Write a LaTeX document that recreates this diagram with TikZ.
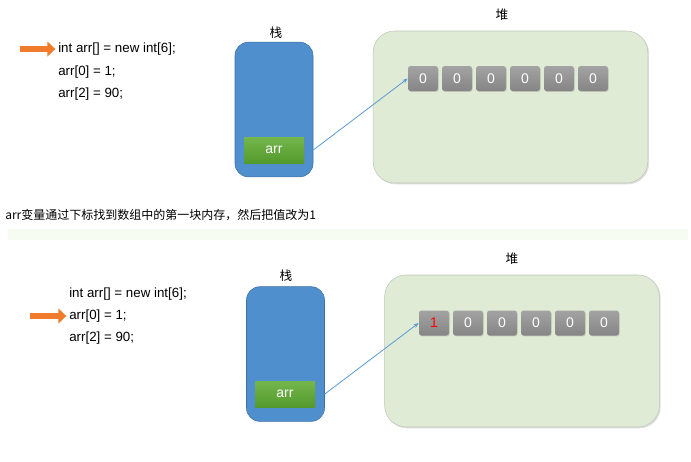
\documentclass[tikz,border=0pt]{standalone}
\usepackage{fontspec}
\setmainfont{Liberation Sans}
\newfontfamily\cjk{Noto Sans CJK SC}
\usetikzlibrary{arrows.meta, positioning, shadows}

\definecolor{stackblue}{HTML}{4F8FCE}
\definecolor{stackedge}{HTML}{3E70A3}
\definecolor{heapfill}{HTML}{DFEBD5}
\definecolor{heapedge}{HTML}{BFC6BA}
\definecolor{linkblue}{HTML}{5B9BD5}
\definecolor{handorange}{HTML}{EF7B2B}
\definecolor{band}{HTML}{F7FCF3}
\definecolor{vartop}{HTML}{74B64C}
\definecolor{varbottom}{HTML}{539A2C}
\definecolor{celltop}{HTML}{A3A3A3}
\definecolor{cellbottom}{HTML}{858585}

\begin{document}
\begin{tikzpicture}[
  x=0.75pt, y=-0.75pt,
  font=\fontsize{10}{12}\selectfont,
  code/.style={anchor=west, inner sep=0pt},
  title/.style={font=\cjk\fontsize{9.5}{11}\selectfont},
  stack/.style={draw=stackedge, fill=stackblue, rounded corners=10pt, minimum width=58.5pt, minimum height=101pt},
  heap/.style={draw=heapedge, fill=heapfill, rounded corners=16pt, minimum width=206pt, minimum height=114pt,
    drop shadow={shadow xshift=1pt, shadow yshift=-1pt, opacity=0.25}},
  var/.style={top color=vartop, bottom color=varbottom, draw=none,
    minimum width=45pt, minimum height=19.5pt, text=white, inner sep=0pt, font=\fontsize{10.5}{12}\selectfont,
    drop shadow={shadow xshift=0.5pt, shadow yshift=-0.7pt, opacity=0.3}},
  cell/.style={top color=celltop, bottom color=cellbottom, rounded corners=2pt, minimum width=22.5pt, minimum height=18.75pt,
    text=white, inner sep=0pt, font=\fontsize{10.5}{12}\selectfont,
    drop shadow={shadow xshift=0.5pt, shadow yshift=-0.7pt, opacity=0.3}},
  ptr/.style={-{Stealth[length=4pt, width=3pt]}, linkblue, semithick},
  hand/.style={-{Triangle[length=6pt, width=11pt]}, handorange, line width=5pt}
]
  \useasboundingbox[fill=white] (0,0) rectangle (691,461);

  % top: new int[6]
  \node[code] (codeA1) at (58,49) {int arr[] = new int[6];};
  \node[code] (codeA2) at (58,72) {arr[0] = 1;};
  \node[code] (codeA3) at (58,94) {arr[2] = 90;};
  \coordinate (handA) at (20,49);
  \draw[hand] (handA) -- ([xshift=-2pt]codeA1.west);

  \node[title] (stackTitleA) at (276,33) {栈};
  \node[stack] (stackA) at (274,109.5) {};
  \node[var] (varA) at (274,150) {arr};

  \node[title] (heapTitleA) at (502,15) {堆};
  \node[heap] (heapA) at (510.5,107) {};
  \node[cell] (a1) at (423,78.5) {0};
  \foreach \i [remember=\i as \j (initially 1)] in {2,...,6}
    \node[cell, right=2.6pt of a\j] (a\i) {0};
  \draw[ptr] (varA.east -| stackA.east) -- (a1.west);

  % caption
  \node[code, font=\cjk\fontsize{9}{11}\selectfont] (caption) at (5,215) {arr变量通过下标找到数组中的第一块内存，然后把值改为1};
  \fill[band] (8,229) rectangle (688,240);

  % bottom: arr[0] = 1
  \node[code] (codeB1) at (69,294) {int arr[] = new int[6];};
  \node[code] (codeB2) at (69,316) {arr[0] = 1;};
  \node[code] (codeB3) at (69,338) {arr[2] = 90;};
  \coordinate (handB) at (30,316);
  \draw[hand] (handB) -- ([xshift=-2pt]codeB2.west);

  \node[title] (stackTitleB) at (286,276) {栈};
  \node[stack] (stackB) at (285.5,354) {};
  \node[var] (varB) at (285,394) {arr};

  \node[title] (heapTitleB) at (512,259) {堆};
  \node[heap] (heapB) at (522,351) {};
  \node[cell, text=red] (b1) at (434,323) {1};
  \foreach \i [remember=\i as \j (initially 1)] in {2,...,6}
    \node[cell, right=2.6pt of b\j] (b\i) {0};
  \draw[ptr] (varB.east -| stackB.east) -- (b1.west);
\end{tikzpicture}
\end{document}
